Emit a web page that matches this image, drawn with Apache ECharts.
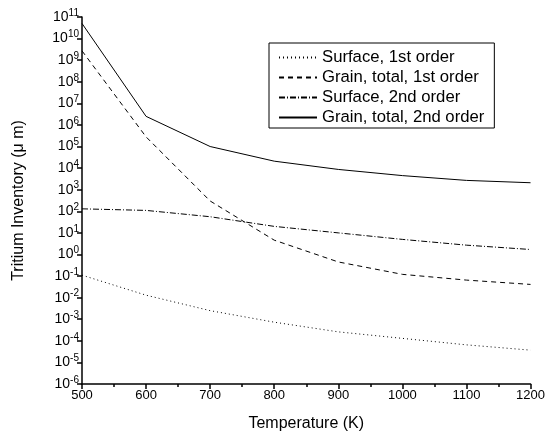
<!DOCTYPE html>
<html>
<head>
<meta charset="utf-8">
<script src="https://cdn.jsdelivr.net/npm/echarts@6/dist/echarts.min.js"></script>
<style>
  html, body { margin: 0; padding: 0; background: #fff; }
  #chart { width: 548px; height: 439px; }
</style>
</head>
<body>
<div id="chart"></div>
<script>
// temperatures (K)
const temps = [500, 600, 700, 800, 900, 1000, 1100, 1200];
// tritium inventory
const surface1st = [0.11, 0.013, 2.5e-3, 7.3e-4, 2.6e-4, 1.3e-4, 6.5e-5, 3.7e-5];
const grain1st = [2.7e9, 2.8e5, 3e2, 4.6, 0.45, 0.12, 0.065, 0.041];
const surface2nd = [130, 110, 56, 20, 10, 5, 2.7, 1.7];
const grain2nd = [5e10, 2.5e6, 1e5, 2.1e4, 8.7e3, 4.5e3, 2.7e3, 2.1e3];
const seriesNames = ['Surface, 1st order', 'Grain, total, 1st order', 'Surface, 2nd order', 'Grain, total, 2nd order'];

const font = 'Liberation Sans, Arial, sans-serif';

function pairs(ys) {
  return temps.map((t, i) => [t, ys[i]]);
}

function line(name, ys, type) {
  return {
    name: name,
    type: 'line',
    data: pairs(ys),
    symbol: 'none',
    lineStyle: { color: '#000', width: 1, type: type },
    itemStyle: { color: '#000' },
    animation: false
  };
}

const chart = echarts.init(document.getElementById('chart'));
chart.setOption({
  backgroundColor: '#fff',
  textStyle: { fontFamily: font },
  grid: { left: 82, right: 15, top: 17, bottom: 55 },
  legend: {
    orient: 'vertical',
    left: 269,
    top: 43,
    data: seriesNames,
    itemWidth: 38,
    itemHeight: 15,
    itemGap: 3,
    padding: [6, 10, 2, 9],
    borderColor: '#000',
    borderWidth: 1,
    itemStyle: { opacity: 0 },
    textStyle: { fontSize: 16.7, color: '#000', fontFamily: font }
  },
  xAxis: {
    type: 'value',
    min: 500,
    max: 1200,
    interval: 100,
    name: 'Temperature (K)',
    nameLocation: 'middle',
    nameGap: 32,
    nameTextStyle: { fontSize: 16, color: '#000' },
    axisLine: { onZero: false, lineStyle: { color: '#000', width: 1.5 } },
    axisTick: { length: 5, lineStyle: { color: '#000', width: 1.5 } },
    minorTick: { show: true, splitNumber: 2, length: 3, lineStyle: { color: '#000', width: 1.5 } },
    axisLabel: { fontSize: 13, color: '#000', margin: 5, formatter: v => String(v) },
    splitLine: { show: false }
  },
  yAxis: {
    type: 'log',
    logBase: 10,
    min: 1e-6,
    max: 1e11,
    interval: 1,
    name: 'Tritium Inventory (μ m)',
    nameLocation: 'middle',
    nameGap: 55,
    nameTextStyle: { fontSize: 16, color: '#000' },
    axisLine: { show: true, lineStyle: { color: '#000', width: 1.5 } },
    axisTick: { show: true, length: 5, lineStyle: { color: '#000', width: 1.5 } },
    axisLabel: {
      margin: 3,
      color: '#000',
      formatter: function (v) {
        const e = Math.round(Math.log10(v));
        return '{b|10}{s|' + e + '}';
      },
      rich: {
        b: { fontSize: 14, color: '#000', fontFamily: font },
        s: { fontSize: 10, color: '#000', fontFamily: font, verticalAlign: 'bottom', padding: [0, 0, 8, 0] }
      }
    },
    splitLine: { show: false }
  },
  series: [
    line(seriesNames[0], surface1st, [1, 3]),
    line(seriesNames[1], grain1st, [5, 4]),
    line(seriesNames[2], surface2nd, [6, 2, 1, 2]),
    line(seriesNames[3], grain2nd, 'solid')
  ]
});
</script>
</body>
</html>
